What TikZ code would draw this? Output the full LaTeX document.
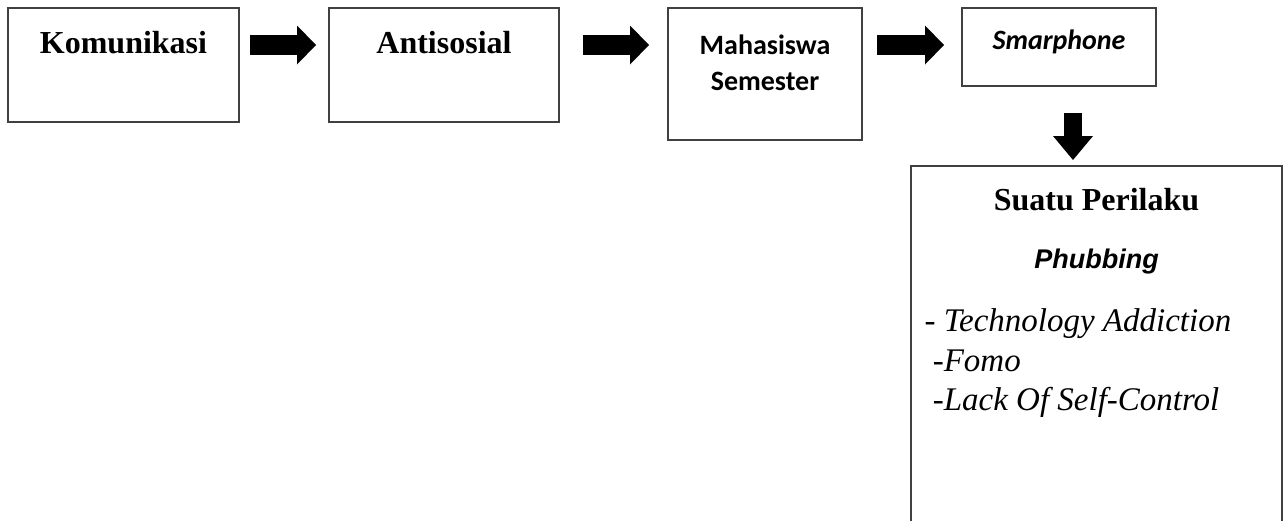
\documentclass[tikz,border=0pt]{standalone}
\usepackage{fontspec}
\setmainfont{Liberation Serif}
\newfontfamily\calibrifont{Carlito}
\newfontfamily\arialfont{Liberation Sans}
\usetikzlibrary{arrows.meta}
\begin{document}
\begin{tikzpicture}[x=1pt,y=-1pt,
  box/.style={draw=black!75, line width=1.5pt, outer sep=0pt, inner sep=0pt, anchor=north west},
  serifbold/.style={anchor=base, font=\bfseries\fontsize{32}{38}\selectfont},
  calibribold/.style={anchor=base, font=\calibrifont\bfseries\fontsize{28}{34}\selectfont},
  listtext/.style={anchor=base west, font=\fontsize{33}{39}\selectfont},
  blk/.style={line width=20pt, draw=black, -{Triangle[length=19pt 0 0, width=39pt 0 0, line width=0pt 0 0]}},
  blkdown/.style={line width=18pt, draw=black, -{Triangle[length=24pt 0 0, width=40pt 0 0, line width=0pt 0 0]}}
]
\useasboundingbox (0,0) rectangle (1283,520);
% boxes
\node[box, minimum width=231pt, minimum height=114pt] (k) at (8,8) {};
\node[box, minimum width=230pt, minimum height=114pt] (a) at (329,8) {};
\node[box, minimum width=194pt, minimum height=132pt] (m) at (668,8) {};
\node[box, minimum width=194pt, minimum height=78pt] (s) at (962,8) {};
\node[box, minimum width=371pt, minimum height=370pt] (p) at (911,166) {};
% texts
\node[serifbold] (kt) at (123.5,53) {Komunikasi};
\node[serifbold] (at) at (444,53) {Antisosial};
\node[calibribold] (mt1) at (765,54) {Mahasiswa};
\node[calibribold] (mt2) at (765,90) {Semester};
\node[anchor=base, font=\calibrifont\bfseries\itshape\fontsize{28}{34}\selectfont] (st) at (1059,49) {Smarphone};
\node[serifbold] (pt1) at (1096.5,210) {Suatu Perilaku};
\node[anchor=base, font=\arialfont\bfseries\itshape\fontsize{27}{32}\selectfont] (pt2) at (1096.5,268) {Phubbing};
\node[listtext] (l1) at (921,331) {- \textit{Technology Addiction}};
\node[listtext] (l2) at (921,371) {\ -\textit{Fomo}};
\node[listtext] (l3) at (921,410) {\ -\textit{Lack Of Self-Control}};
% block arrows
\draw[blk] ([shift={(11,-20)}]k.east) -- ([shift={(-13,-20)}]a.west);
\draw[blk] ([shift={(24,-20)}]a.east) -- ([shift={(-19,-29)}]m.west);
\draw[blk] ([shift={(15,-29)}]m.east) -- ([shift={(-18,-2)}]s.west);
\draw[blkdown] ([shift={(14,27)}]s.south) -- ([shift={(-23.5,-6)}]p.north);
\end{tikzpicture}
\end{document}
